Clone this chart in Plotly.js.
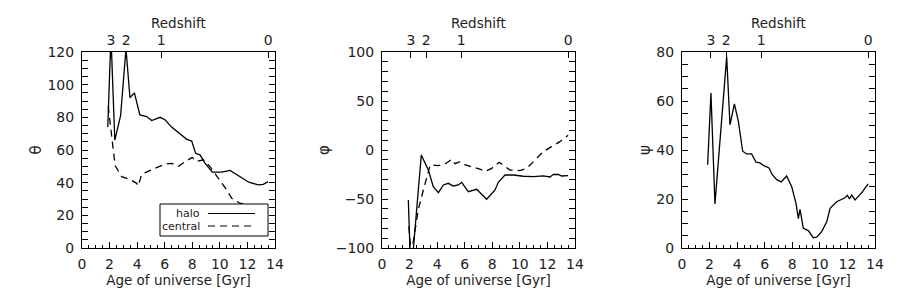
<!DOCTYPE html>
<html>
<head>
<meta charset="utf-8">
<script src="https://cdn.plot.ly/plotly-3.0.1.min.js"></script>
<style>html,body{margin:0;padding:0;background:#fff;}#chart{width:900px;height:300px;}</style>
</head>
<body>
<div id="chart"></div>
<script>
// ---- data (age of universe in Gyr) ----
const ageThetaHalo = [1.87, 2.1, 2.38, 2.8, 3.19, 3.48, 3.8, 4.2, 4.69, 5.05, 5.66, 6.02, 6.5, 7.1, 7.6, 7.96, 8.24, 8.56, 8.92, 9.45, 10.13, 10.74, 11.46, 12.1, 12.79, 13.15, 13.5];
const thetaHalo    = [74, 130, 66, 81, 122, 92, 95, 81.5, 80.5, 78, 80, 78.5, 74, 70, 66.5, 65.5, 58, 57, 52, 46.5, 46.5, 47.5, 43.7, 40.3, 38.6, 39, 40.6];

const ageThetaCen = [1.9, 2.1, 2.3, 2.4, 2.88, 3.48, 3.97, 4.08, 4.33, 4.93, 5.5, 6.02, 6.5, 7.0, 7.6, 8.0, 8.3, 8.8, 9.28, 9.89, 10.5, 10.86, 11.46, 12.19, 13.15, 13.5];
const thetaCen    = [87, 72, 57, 50.5, 43.7, 42, 39.6, 38, 45.3, 47.3, 49.5, 51.4, 51.8, 50, 53.5, 55.5, 53, 54, 49.8, 42.7, 35.5, 30.4, 27.4, 25.7, 24.9, 25.7];

const agePhiHalo = [1.91, 2.05, 2.22, 2.85, 3.36, 3.72, 4.09, 4.45, 4.81, 5.17, 5.54, 5.78, 6.26, 6.87, 7.59, 8.2, 8.44, 8.92, 9.53, 10.25, 10.98, 11.7, 12.19, 12.43, 12.79, 13.03, 13.5];
const phiHalo    = [-51, -110, -110, -5, -20.4, -37.4, -43.5, -35.7, -34, -36.7, -35.7, -33, -42.5, -40.1, -50.3, -40.8, -33, -25.5, -25.5, -26.8, -27.2, -26.5, -27.5, -24.8, -25, -26.5, -26.2];

const agePhiCen = [1.95, 2.1, 2.25, 2.63, 3.0, 3.36, 3.5, 4.09, 4.6, 5.05, 5.3, 5.66, 6.0, 6.6, 7.1, 7.47, 7.96, 8.5, 8.92, 9.28, 10.0, 10.5, 11.1, 11.7, 12.3, 12.9, 13.5];
const phiCen    = [-78, -105, -95, -61, -40.8, -20, -15, -16, -14, -9.5, -14, -12, -15, -17.5, -19.5, -22, -18.7, -12.5, -17, -20.4, -21, -18.7, -10.2, -1.7, 3.4, 8.5, 15];

const agePsi = [1.86, 2.1, 2.39, 3.24, 3.48, 3.8, 4.09, 4.4, 4.69, 5.05, 5.37, 5.66, 5.9, 6.31, 6.55, 6.87, 7.2, 7.59, 7.96, 8.27, 8.44, 8.56, 8.8, 9.16, 9.52, 9.77, 10.13, 10.5, 10.74, 11.22, 11.82, 12.0, 12.15, 12.31, 12.55, 12.8, 13.1, 13.5];
const psi    = [34, 63.3, 18, 78, 50.3, 58.8, 51.7, 39.5, 38.4, 38.4, 35, 34.7, 33.7, 32.7, 29.9, 27.9, 27, 29.4, 25, 18.2, 12, 15.8, 8, 7.1, 4.2, 4.4, 6.7, 10.7, 16.2, 18.9, 20.5, 21.5, 20, 21.6, 19.6, 21, 23, 26.2];

// top axis: redshift labels at corresponding ages
const redshiftLabels = ['3', '2', '1', '0'];
const redshiftAges   = [2.1, 3.2, 5.75, 13.5];

const yTitles = ['θ', 'φ', 'ψ'];
const yRanges = [[0, 120], [-100, 100], [0, 80]];
const yDticks = [20, 50, 20];
const yMinor  = [5, 10, 5];

// ---- layout ----
const W = 900, H = 300;
const px = v => v / W, py = v => 1 - v / H;
const FAM = 'DejaVu Sans, sans-serif';
const tickFont = {family: FAM, size: 14, color: '#222'};
const titleFont = {family: FAM, size: 13.5, color: '#222'};
const panelLeft = [82, 382, 682], panelWidth = 193;
const yDom = [py(248), py(52)];

const layout = {
  width: W, height: H,
  margin: {l: 0, r: 0, t: 0, b: 0},
  paper_bgcolor: '#fff', plot_bgcolor: '#fff',
  showlegend: false, font: titleFont,
  shapes: [], annotations: []
};

for (let i = 0; i < 3; i++) {
  const n = i + 1, nTop = i + 4;
  const xs = n === 1 ? '' : n;
  const dom = [px(panelLeft[i]), px(panelLeft[i] + panelWidth)];
  layout['xaxis' + xs] = {
    domain: dom, range: [0, 14], anchor: 'y' + xs,
    showline: true, linecolor: '#000', linewidth: 1,
    ticks: 'inside', ticklen: 6, tickcolor: '#000', tick0: 0, dtick: 2,
    minor: {dtick: 0.5, ticks: 'inside', ticklen: 3, tickcolor: '#000'},
    showgrid: false, zeroline: false, tickfont: tickFont, ticklabelstandoff: 3,
    title: {text: 'Age of universe [Gyr]', font: titleFont, standoff: 3}
  };
  layout['xaxis' + nTop] = {
    overlaying: 'x' + xs, side: 'top', anchor: 'y' + xs, range: [0, 14],
    showline: true, linecolor: '#000', linewidth: 1,
    ticks: 'inside', ticklen: 6, tickcolor: '#000',
    tickvals: redshiftAges, ticktext: redshiftLabels,
    showgrid: false, zeroline: false, tickfont: tickFont, ticklabelstandoff: 0
  };
  layout['yaxis' + xs] = {
    domain: yDom, range: yRanges[i], anchor: 'x' + xs,
    showline: true, linecolor: '#000', linewidth: 1, mirror: 'allticks',
    ticks: 'inside', ticklen: 6, tickcolor: '#000', dtick: yDticks[i],
    minor: {dtick: yMinor[i], ticks: 'inside', ticklen: 3, tickcolor: '#000'},
    showgrid: false, zeroline: false, tickfont: tickFont, ticklabelstandoff: 4,
    title: {text: yTitles[i], font: {family: FAM, size: 15, color: '#222'}, standoff: 2}
  };
  // top axis title
  layout.annotations.push({
    xref: 'paper', yref: 'paper', x: px(panelLeft[i] + panelWidth / 2), y: py(23),
    xanchor: 'center', yanchor: 'middle', text: 'Redshift', showarrow: false, font: titleFont, borderpad: 0
  });
}

// legend box in first panel (drawn manually: text left of sample line)
const legFont = {family: FAM, size: 11, color: '#222'};
layout.shapes.push(
  {type: 'rect', xref: 'paper', yref: 'paper', x0: px(160), x1: px(268), y0: py(236), y1: py(204), line: {color: '#000', width: 1}, fillcolor: '#fff'},
  {type: 'line', xref: 'paper', yref: 'paper', x0: px(208), x1: px(255), y0: py(213.5), y1: py(213.5), line: {color: '#000', width: 1.2}},
  {type: 'line', xref: 'paper', yref: 'paper', x0: px(208), x1: px(253), y0: py(226), y1: py(226), line: {color: '#000', width: 1.2, dash: '7px,5px'}}
);
layout.annotations.push(
  {xref: 'paper', yref: 'paper', x: px(201), y: py(213), xanchor: 'right', yanchor: 'middle', text: 'halo', showarrow: false, font: legFont, borderpad: 0},
  {xref: 'paper', yref: 'paper', x: px(201), y: py(226.5), xanchor: 'right', yanchor: 'middle', text: 'central', showarrow: false, font: legFont, borderpad: 0}
);

const solid = {color: '#000', width: 1.3};
const dashed = {color: '#000', width: 1.3, dash: '7px,5px'};
const traces = [
  {x: ageThetaHalo, y: thetaHalo, xaxis: 'x', yaxis: 'y', mode: 'lines', line: solid, name: 'halo'},
  {x: ageThetaCen, y: thetaCen, xaxis: 'x', yaxis: 'y', mode: 'lines', line: dashed, name: 'central'},
  {x: agePhiHalo, y: phiHalo, xaxis: 'x2', yaxis: 'y2', mode: 'lines', line: solid, name: 'halo'},
  {x: agePhiCen, y: phiCen, xaxis: 'x2', yaxis: 'y2', mode: 'lines', line: dashed, name: 'central'},
  {x: agePsi, y: psi, xaxis: 'x3', yaxis: 'y3', mode: 'lines', line: solid, name: 'halo'},
  // invisible traces to activate the top (redshift) axes
  {x: [], y: [], xaxis: 'x4', yaxis: 'y', mode: 'lines', hoverinfo: 'skip'},
  {x: [], y: [], xaxis: 'x5', yaxis: 'y2', mode: 'lines', hoverinfo: 'skip'},
  {x: [], y: [], xaxis: 'x6', yaxis: 'y3', mode: 'lines', hoverinfo: 'skip'}
];

Plotly.newPlot('chart', traces, layout, {staticPlot: true, displayModeBar: false});
</script>
</body>
</html>
